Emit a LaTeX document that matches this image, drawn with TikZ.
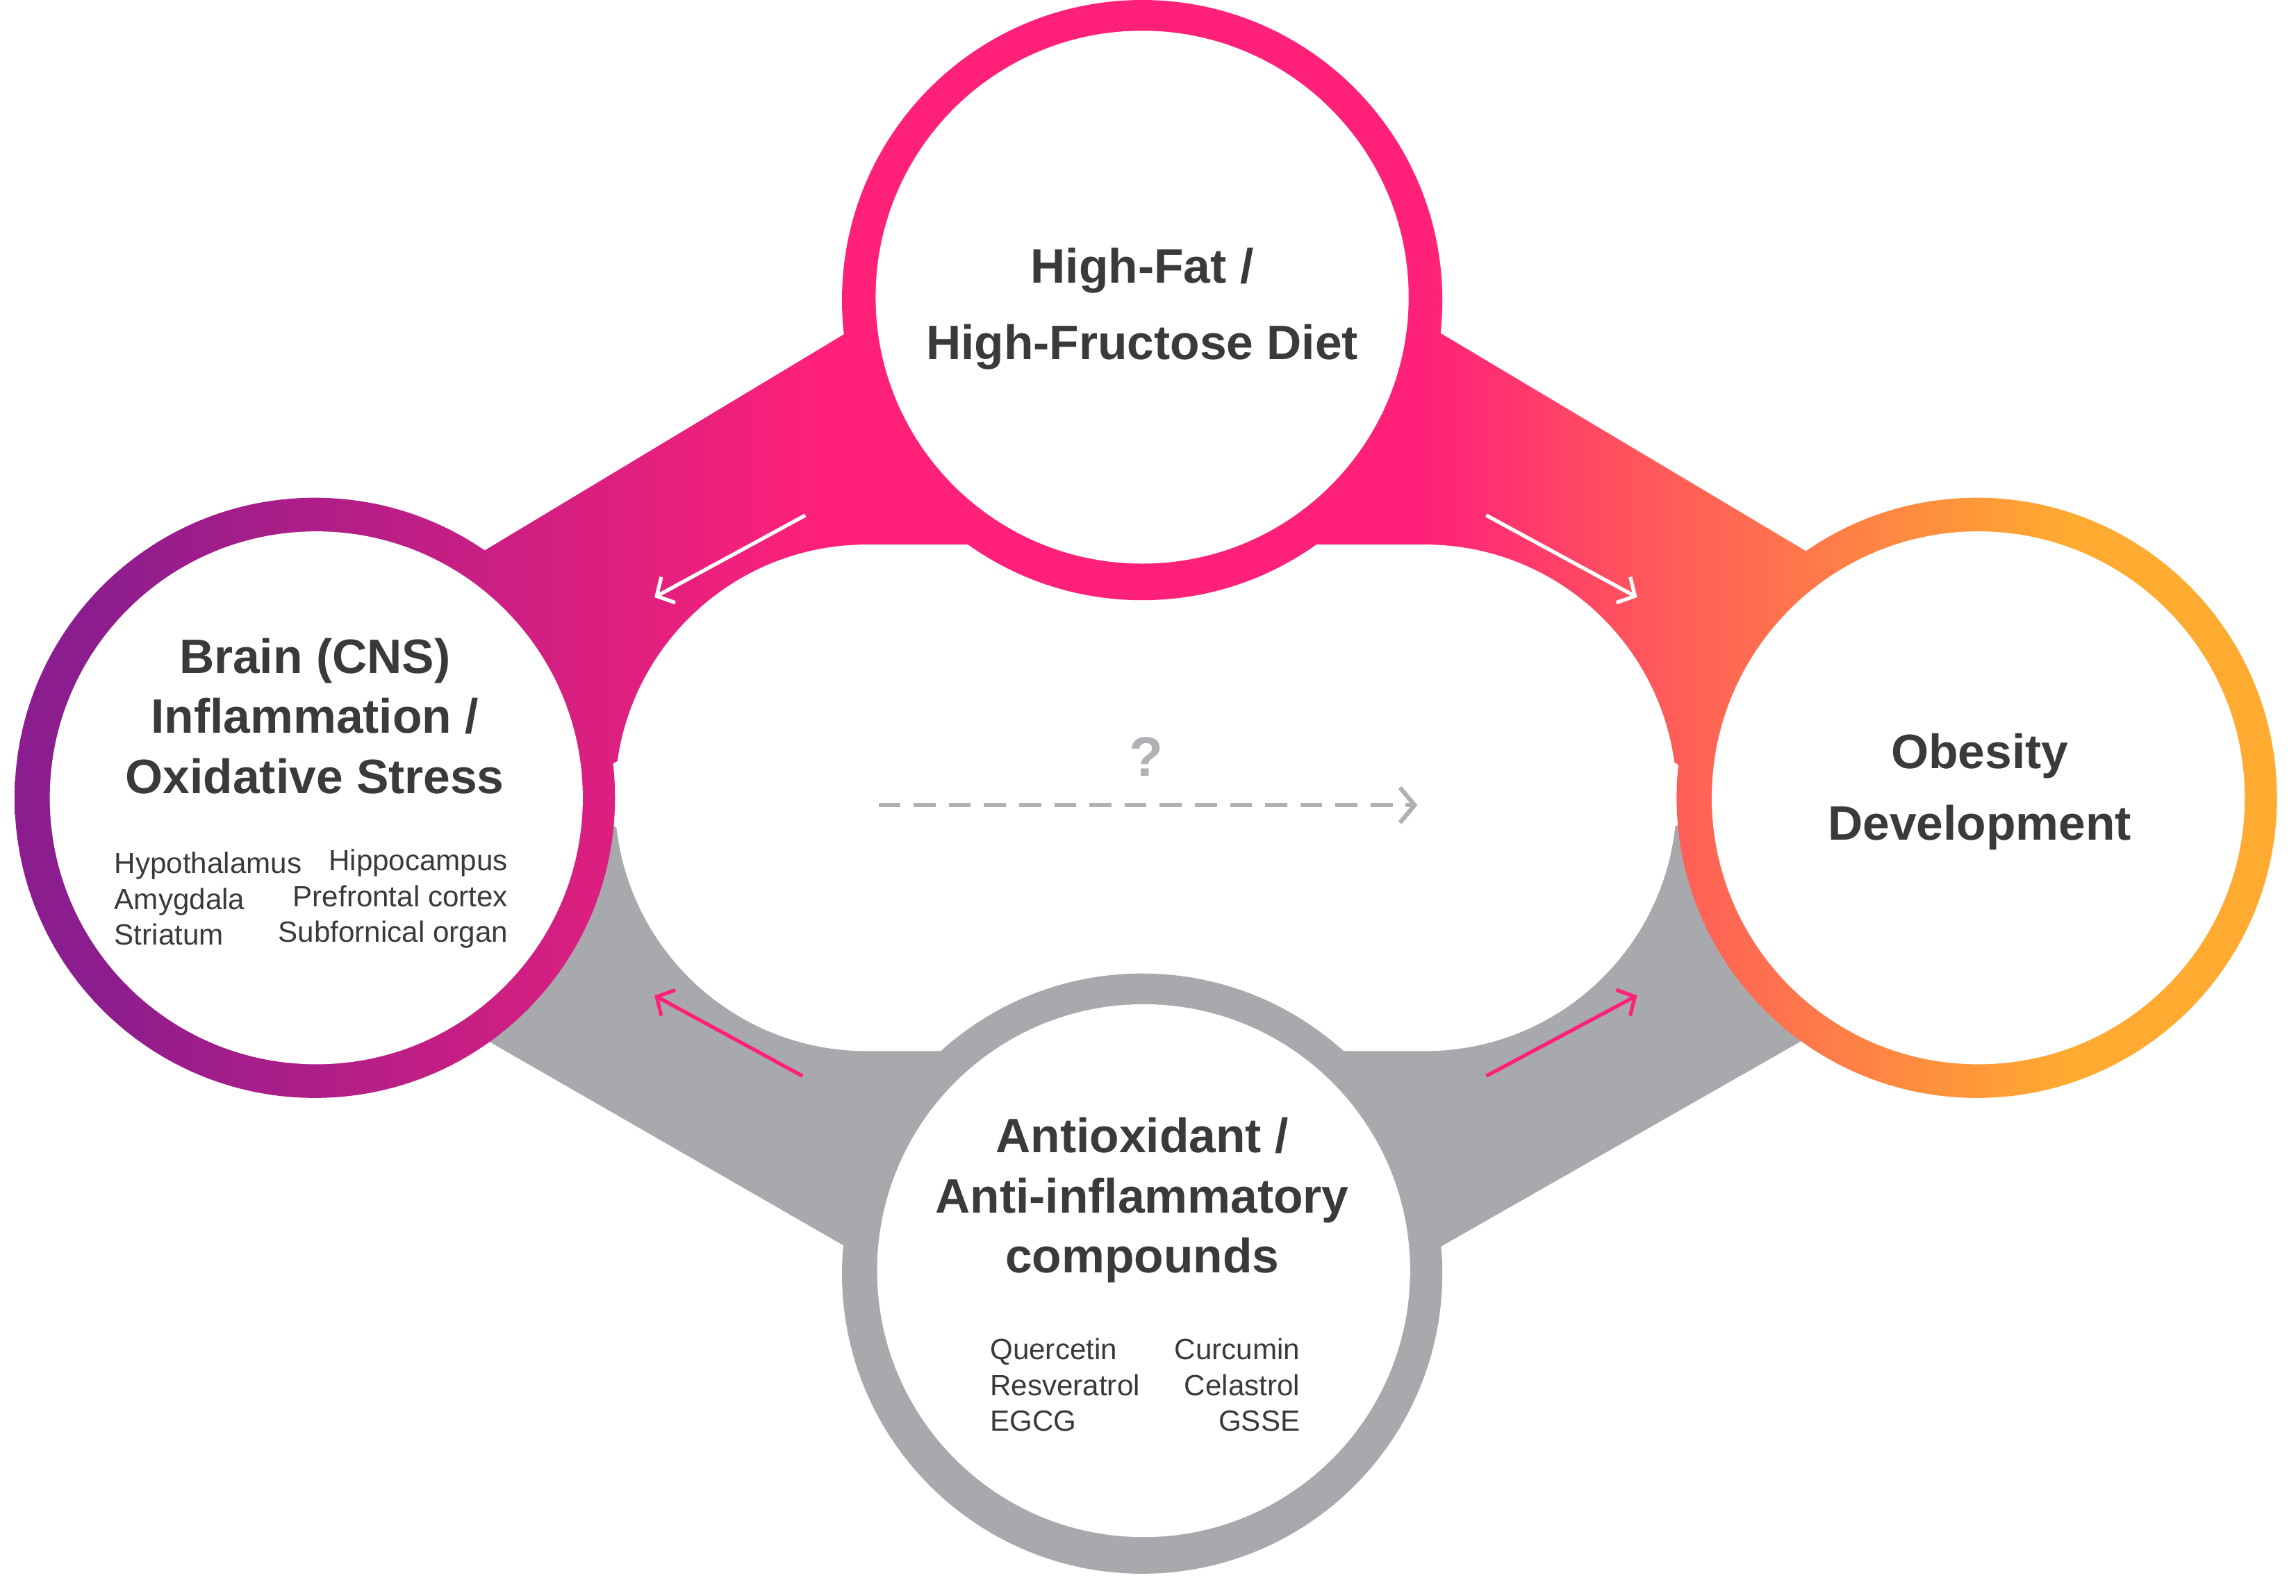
\documentclass[tikz,border=0pt]{standalone}
\usepackage{fontspec}
\setmainfont{Liberation Sans}
\usetikzlibrary{calc,arrows.meta}
\definecolor{cpurple}{HTML}{8C1D8E}
\definecolor{cpink}{HTML}{FF2079}
\definecolor{corange}{HTML}{FFAA30}
\definecolor{cgray}{HTML}{A7A9AC}
\definecolor{ctext}{HTML}{3A3A3A}
\pgfdeclarehorizontalshading{tri}{100bp}{
  color(0bp)=(cpurple); color(27bp)=(cpurple); color(43bp)=(cpink); color(56bp)=(cpink);
  color(61.5bp)=(corange!45!cpink); color(70bp)=(corange); color(100bp)=(corange)}
\begin{document}
\begin{tikzpicture}[x=1pt,y=-1pt,
  title/.style={font=\fontsize{33}{41}\selectfont\bfseries, text=ctext, align=center},
  small/.style={font=\fontsize{20}{24.5}\selectfont, text=ctext, inner sep=0pt},
  inner/.style={circle, fill=white, minimum size=364pt, inner sep=0pt},
  warrow/.style={white, line width=2.5pt, -{Straight Barb[length=9pt,width=20pt]}},
  parrow/.style={cpink, line width=2.5pt, -{Straight Barb[length=9pt,width=20pt]}}]
\useasboundingbox (0,0) rectangle (1568,1090);
\coordinate (L) at (215,545);
\coordinate (T) at (780,205);
\coordinate (R) at (1350,545);
\coordinate (B) at (780,870);
% lower gray bands
\draw[cgray, line width=170pt] (L) -- (B) -- (R);
% upper bands, shaded
\begin{scope}
\clip ($(L)!85pt!90:(T)$) -- ($(L)!85pt!-90:(T)$) -- ($(T)!85pt!90:(L)$) -- ($(T)!85pt!-90:(L)$) -- cycle
      ($(T)!85pt!90:(R)$) -- ($(T)!85pt!-90:(R)$) -- ($(R)!85pt!90:(T)$) -- ($(R)!85pt!-90:(T)$) -- cycle;
\shade[shading=tri] (0,0) rectangle (1568,1090);
\end{scope}
% central white area
\fill[white, rounded corners=172pt] (420,372) rectangle (1145,718);
% circle rings
\begin{scope}
\clip (L) circle[radius=205pt] (T) circle[radius=205pt] (R) circle[radius=205pt];
\shade[shading=tri] (0,0) rectangle (1568,1090);
\end{scope}
\fill[cgray] (B) circle[radius=205pt];
\node[inner] (iT) at (780,203) {};
\node[inner] (iL) at (216,545) {};
\node[inner] (iR) at (1351,545) {};
\node[inner] (iB) at (781,868) {};
% texts
\node[title, font=\fontsize{33}{52}\selectfont\bfseries] (tT) at (780,211) {High-Fat /\\High-Fructose Diet};
\node[title] (tL) at (215,489) {Brain (CNS)\\Inflammation /\\Oxidative Stress};
\node[title, font=\fontsize{33}{49}\selectfont\bfseries] (tR) at (1352,541) {Obesity\\Development};
\node[title] (tB) at (780,820) {Antioxidant /\\Anti-inflammatory\\compounds};
\node[small, anchor=west, align=left] (sL1) at (78,614) {Hypothalamus\\Amygdala\\Striatum};
\node[small, anchor=east, align=right] (sL2) at (347,614) {Hippocampus\\Prefrontal cortex\\Subfornical organ};
\node[small, anchor=west, align=left] (sB1) at (676,946) {Quercetin\\Resveratrol\\EGCG};
\node[small, anchor=east, align=right] (sB2) at (888,946) {Curcumin\\Celastrol\\GSSE};
% arrows
\coordinate (a1s) at (550,352); \coordinate (a1e) at (447,408);
\coordinate (a2s) at (1015,352); \coordinate (a2e) at (1118,408);
\coordinate (a3s) at (548,735); \coordinate (a3e) at (447,680);
\coordinate (a4s) at (1015,735); \coordinate (a4e) at (1118,680);
\draw[warrow] (a1s) -- (a1e);
\draw[warrow] (a2s) -- (a2e);
\draw[parrow] (a3s) -- (a3e);
\draw[parrow] (a4s) -- (a4e);
\coordinate (ds) at (600,550); \coordinate (de) at (968,550);
\draw[cgray!90, line width=3pt, dash pattern=on 15pt off 9pt, -{Straight Barb[length=10pt,width=24pt]}] (ds) -- (de);
\node[font=\fontsize{38}{40}\selectfont\bfseries, text=cgray!90] (q) at (783,517) {?};
\end{tikzpicture}
\end{document}
